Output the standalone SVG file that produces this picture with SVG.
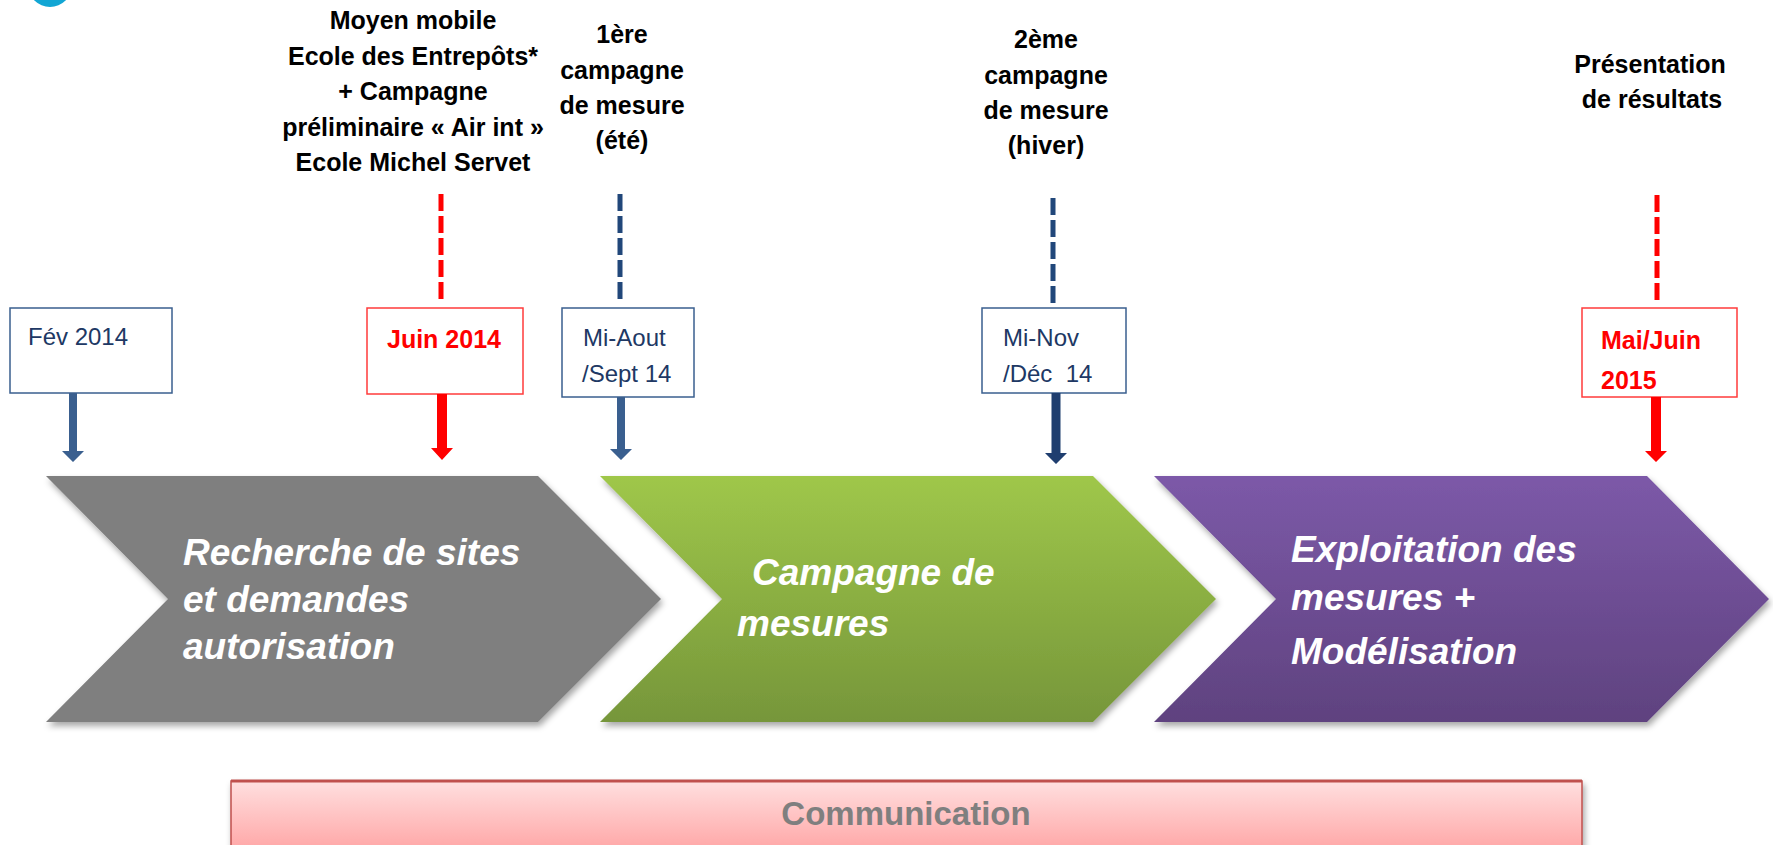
<svg xmlns="http://www.w3.org/2000/svg" width="1773" height="845" viewBox="0 0 1773 845">
  <defs>
    <linearGradient id="gGreen" x1="0" y1="0" x2="0" y2="1">
      <stop offset="0" stop-color="#9fc74a"/>
      <stop offset="1" stop-color="#76963a"/>
    </linearGradient>
    <linearGradient id="gPurple" x1="0" y1="0" x2="0" y2="1">
      <stop offset="0" stop-color="#7c59a8"/>
      <stop offset="1" stop-color="#5f427f"/>
    </linearGradient>
    <linearGradient id="gPink" x1="0" y1="0" x2="0" y2="1">
      <stop offset="0" stop-color="#ffdfdf"/>
      <stop offset="1" stop-color="#ffa6a6"/>
    </linearGradient>
    <filter id="shadow" x="-5%" y="-5%" width="112%" height="115%">
      <feDropShadow dx="2" dy="4" stdDeviation="3" flood-color="#000" flood-opacity="0.35"/>
    </filter>
  </defs>
  <style>
    .phase { font-family: "Liberation Sans", Arial, sans-serif; font-weight: bold; font-style: italic; font-size: 37px; fill: #ffffff; }
    .label { font-family: "Liberation Sans", Arial, sans-serif; font-weight: bold; font-size: 25px; fill: #000000; text-anchor: middle; }
    .dateBlue { font-family: "Liberation Sans", Arial, sans-serif; font-size: 24px; fill: #203864; }
    .dateRed { font-family: "Liberation Sans", Arial, sans-serif; font-weight: bold; font-size: 25px; fill: #ff0000; }
    .boxBlue { fill: #ffffff; stroke: #3a5f8f; stroke-width: 1.5; }
    .boxRed { fill: #ffffff; stroke: #ff3b3b; stroke-width: 1.5; }
    .dashRed { stroke: #ff0000; stroke-width: 5; stroke-dasharray: 17 5; fill: none; }
    .dashBlue { stroke: #21477a; stroke-width: 5; stroke-dasharray: 17 5; fill: none; }
  </style>

  <rect width="1773" height="845" fill="#ffffff"/>

  <!-- corner badge -->
  <circle cx="50" cy="-15" r="22" fill="#12a6d4"/>

  <!-- phase chevrons -->
  <g id="phase-recherche">
    <polygon points="46,476 538,476 661,599 538,722 46,722 168,599" fill="#7f7f7f" filter="url(#shadow)"/>
    <text class="phase" x="183" y="565">Recherche de sites</text>
    <text class="phase" x="183" y="612">et demandes</text>
    <text class="phase" x="183" y="659">autorisation</text>
  </g>
  <g id="phase-campagne">
    <polygon points="600,476 1093,476 1216,599 1093,722 600,722 722,599" fill="url(#gGreen)" filter="url(#shadow)"/>
    <text class="phase" x="752" y="585">Campagne de</text>
    <text class="phase" x="737" y="636">mesures</text>
  </g>
  <g id="phase-exploitation">
    <polygon points="1154,476 1647,476 1769,599 1647,722 1154,722 1276,599" fill="url(#gPurple)" filter="url(#shadow)"/>
    <text class="phase" x="1291" y="562">Exploitation des</text>
    <text class="phase" x="1291" y="610">mesures +</text>
    <text class="phase" x="1291" y="664">Modélisation</text>
  </g>

  <!-- communication band -->
  <g id="communication">
    <rect x="231" y="781" width="1351" height="70" fill="url(#gPink)" stroke="#c0504d" stroke-width="1.5" filter="url(#shadow)"/>
    <line x1="231" y1="781" x2="1582" y2="781" stroke="#c0504d" stroke-width="3"/>
    <text x="906" y="825" font-family="Liberation Sans, Arial, sans-serif" font-weight="bold" font-size="33" fill="#7f7f7f" text-anchor="middle">Communication</text>
  </g>

  <!-- milestone captions -->
  <g id="label-moyen-mobile">
    <text class="label" x="413" y="29">Moyen mobile</text>
    <text class="label" x="413" y="65">Ecole des Entrepôts*</text>
    <text class="label" x="413" y="100">+ Campagne</text>
    <text class="label" x="413" y="136">préliminaire « Air int »</text>
    <text class="label" x="413" y="171">Ecole Michel Servet</text>
  </g>
  <g id="label-campagne-ete">
    <text class="label" x="622" y="43">1ère</text>
    <text class="label" x="622" y="79">campagne</text>
    <text class="label" x="622" y="114">de mesure</text>
    <text class="label" x="622" y="149">(été)</text>
  </g>
  <g id="label-campagne-hiver">
    <text class="label" x="1046" y="48">2ème</text>
    <text class="label" x="1046" y="84">campagne</text>
    <text class="label" x="1046" y="119">de mesure</text>
    <text class="label" x="1046" y="154">(hiver)</text>
  </g>
  <g id="label-presentation">
    <text class="label" x="1650" y="73">Présentation</text>
    <text class="label" x="1652" y="108">de résultats</text>
  </g>

  <!-- date boxes -->
  <g id="date-fev-2014">
    <rect class="boxBlue" x="10" y="308" width="162" height="85"/>
    <text class="dateBlue" x="28" y="345">Fév 2014</text>
  </g>
  <g id="date-juin-2014">
    <rect class="boxRed" x="367" y="308" width="156" height="86"/>
    <text class="dateRed" x="387" y="348">Juin 2014</text>
  </g>
  <g id="date-mi-aout">
    <rect class="boxBlue" x="562" y="308" width="132" height="89"/>
    <text class="dateBlue" x="583" y="346">Mi-Aout</text>
    <text class="dateBlue" x="582" y="382">/Sept 14</text>
  </g>
  <g id="date-mi-nov">
    <rect class="boxBlue" x="982" y="308" width="144" height="85"/>
    <text class="dateBlue" x="1003" y="346">Mi-Nov</text>
    <text class="dateBlue" x="1003" y="382" xml:space="preserve">/Déc  14</text>
  </g>
  <g id="date-mai-juin-2015">
    <rect class="boxRed" x="1582" y="308" width="155" height="89"/>
    <text class="dateRed" x="1601" y="349" font-size="27">Mai/Juin</text>
    <text class="dateRed" x="1601" y="389" font-size="27">2015</text>
  </g>

  <!-- connectors: dashed leaders from captions, arrows down to the phases -->
  <g id="connectors">
    <line class="dashRed" x1="441" y1="194" x2="441" y2="303"/>
    <line class="dashBlue" x1="620" y1="194" x2="620" y2="303"/>
    <line class="dashBlue" x1="1053" y1="198" x2="1053" y2="306"/>
    <line class="dashRed" x1="1657" y1="195" x2="1657" y2="303"/>

    <polygon points="69,393 77,393 77,451 84,451 73,462 62,451 69,451" fill="#3a5f8f"/>
    <polygon points="437,394 447,394 447,448 453,448 442,460 431,448 437,448" fill="#ff0000"/>
    <polygon points="617,397 625,397 625,449 632,449 621,460 610,449 617,449" fill="#3a5f8f"/>
    <polygon points="1051.5,393 1060.5,393 1060.5,453 1067,453 1056,464 1045,453 1051.5,453" fill="#1f3e6f"/>
    <polygon points="1651,397 1661,397 1661,451 1667,451 1656,462 1645,451 1651,451" fill="#ff0000"/>
  </g>
</svg>
